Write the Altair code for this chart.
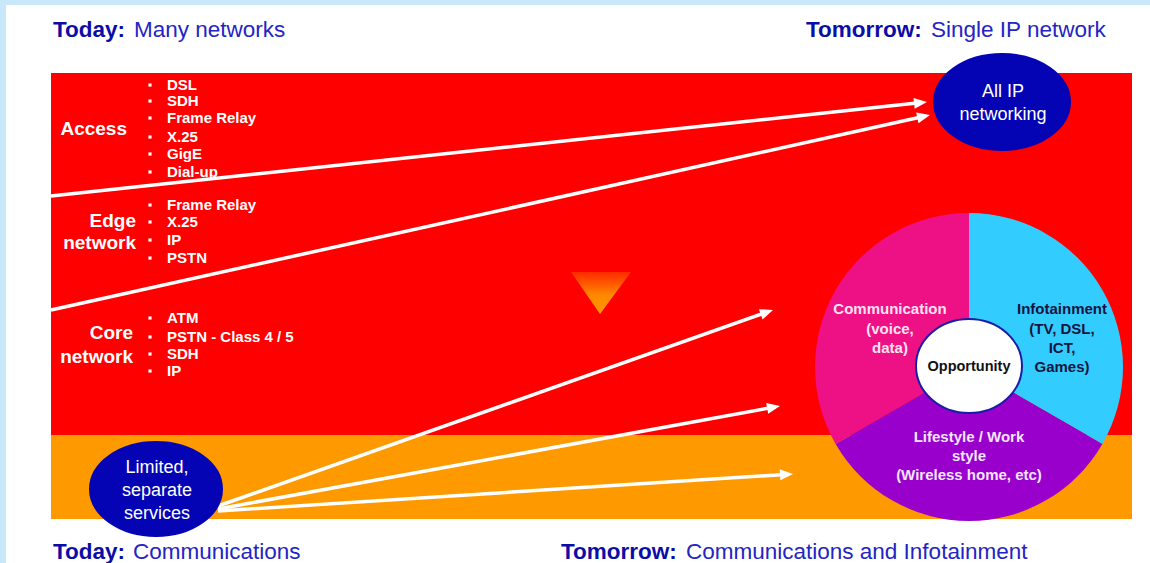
import altair as alt
import pandas as pd

W, H = 1150, 563
FONT = "Liberation Sans"

# ---------------- content ----------------
title_bold = ["Today:", "Tomorrow:", "Today:", "Tomorrow:"]
title_rest = ["Many networks", "Single IP network", "Communications",
              "Communications and Infotainment"]
title_bold_x = [53, 806, 53, 561]
title_rest_x = [134, 931, 133, 686]
title_y = [30, 30, 552, 552]

band_names = ["networks", "services"]
band_colors = ["#ff0000", "#ff9900"]
band_x = [51, 51]
band_x2 = [1132, 1132]
band_y = [73, 435]
band_y2 = [435, 519]

layer_names = ["Access", "Edge", "network", "Core", "network"]
layer_name_x = [127, 136, 136, 133, 133]
layer_name_y = [129, 221, 243, 333, 357]

bullet_items = ["DSL", "SDH", "Frame Relay", "X.25", "GigE", "Dial-up",
                "Frame Relay", "X.25", "IP", "PSTN",
                "ATM", "PSTN - Class 4 / 5", "SDH", "IP"]
bullet_y = [85, 101, 118, 137, 154, 172,
            205, 222, 240, 258,
            318, 337, 354, 371]

arrow_x0 = [51, 51, 218, 218, 218]
arrow_y0 = [196, 310, 506, 509, 511]
arrow_x1 = [927, 930, 773, 780, 793]
arrow_y1 = [102, 115, 310, 406, 474]

pie_labels = ["Infotainment", "Lifestyle / Work style", "Communication"]
pie_shares = [1, 1, 1]
pie_colors = ["#33ccff", "#9900cc", "#ee1085"]

ell_names = ["All IP networking", "Limited, separate services", "Opportunity"]
ell_cx = [1002, 156, 969]
ell_cy = [102, 489, 366]
ell_rx = [68, 66, 53]
ell_ry = [48, 47, 47]
ell_fill = ["#0404b4", "#0404b4", "#ffffff"]
ell_stroke = ["#0404b4", "#0404b4", "#1a1aa8"]

ell_text = ["All IP", "networking", "Limited,", "separate", "services"]
ell_text_x = [1003, 1003, 157, 157, 157]
ell_text_y = [92, 115, 468, 491, 514]

comm_text = ["Communication", "(voice,", "data)"]
comm_y = [309, 329, 348]
info_text = ["Infotainment", "(TV, DSL,", "ICT,", "Games)"]
info_y = [309, 329, 348, 367]
life_text = ["Lifestyle / Work", "style", "(Wireless home, etc)"]
life_y = [437, 456, 475]

# ---------------- helpers ----------------
XS = alt.Scale(domain=[0, W], nice=False, zero=False)
YS = alt.Scale(domain=[0, H], nice=False, zero=False, reverse=True)


def X(f):
    return alt.X(f, type="quantitative", scale=XS, axis=None)


def Y(f):
    return alt.Y(f, type="quantitative", scale=YS, axis=None)


def texts(labels, xs, ys, **kw):
    df = pd.DataFrame({"t": labels, "x": xs, "y": ys})
    return alt.Chart(df).mark_text(font=FONT, baseline="middle", **kw).encode(
        x=X("x"), y=Y("y"), text="t:N")


# ---------------- layers ----------------
panel = alt.Chart(pd.DataFrame({"x": [6], "x2": [W], "y": [5], "y2": [H]})).mark_rect(
    color="#ffffff").encode(x=X("x"), x2="x2:Q", y=Y("y"), y2="y2:Q")

bands = alt.Chart(pd.DataFrame({"n": band_names, "c": band_colors, "x": band_x,
                                "x2": band_x2, "y": band_y, "y2": band_y2})).mark_rect().encode(
    x=X("x"), x2="x2:Q", y=Y("y"), y2="y2:Q", color=alt.Color("c:N", scale=None))

grad = alt.Gradient(gradient="linear",
                    stops=[alt.GradientStop(color="#ff2a00", offset=0),
                           alt.GradientStop(color="#ff8800", offset=0.55),
                           alt.GradientStop(color="#ff9900", offset=1)],
                    x1=0, x2=0, y1=0, y2=1)
tri = alt.Chart(pd.DataFrame({"x": [600], "y": [272]})).mark_point(
    shape="M-29,0 L31,0 L0,42 Z", filled=True, fill=grad, opacity=1, size=4,
    strokeWidth=0).encode(x=X("x"), y=Y("y"))

arr_df = pd.DataFrame({"x0": arrow_x0, "y0": arrow_y0, "x1": arrow_x1, "y1": arrow_y1})
arr_base = alt.Chart(arr_df).transform_calculate(
    ang="atan2(datum.y1 - datum.y0, datum.x1 - datum.x0)"
).transform_calculate(
    deg="(datum.ang * 180 / PI + 360) % 360",
    ex="datum.x1 - 8 * cos(datum.ang)",
    ey="datum.y1 - 8 * sin(datum.ang)",
)
arr_lines = arr_base.mark_rule(color="#ffffff", strokeWidth=3.5).encode(
    x=X("x0"), y=Y("y0"), x2="ex:Q", y2="ey:Q")
arr_heads = arr_base.mark_point(
    shape="M0,0 L-13,-5.5 L-13,5.5 Z", filled=True, color="#ffffff", opacity=1,
    size=4, strokeWidth=0).encode(
    x=X("x1"), y=Y("y1"), angle=alt.Angle("deg:Q", scale=None))

bul_df = pd.DataFrame({"x": [150] * len(bullet_y), "y": bullet_y})
bullets = alt.Chart(bul_df).mark_square(size=10, color="#ffffff", opacity=1).encode(
    x=X("x"), y=Y("y"))

pie = alt.Chart(pd.DataFrame({"lab": pie_labels, "share": pie_shares, "c": pie_colors,
                              "idx": [0, 1, 2]})).mark_arc(radius=154, strokeWidth=0).encode(
    theta=alt.Theta("share:Q", stack=True),
    order=alt.Order("idx:Q"),
    color=alt.Color("c:N", scale=None),
    x=alt.value(969), y=alt.value(367))

ell_paths = [f"M{-rx},0 A{rx},{ry} 0 1,1 {rx},0 A{rx},{ry} 0 1,1 {-rx},0 Z"
             for rx, ry in zip(ell_rx, ell_ry)]
ells = alt.Chart(pd.DataFrame({"n": ell_names, "x": ell_cx, "y": ell_cy, "p": ell_paths,
                               "f": ell_fill, "s": ell_stroke})).mark_point(
    filled=True, opacity=1, size=4, strokeWidth=2).encode(
    x=X("x"), y=Y("y"), shape=alt.Shape("p:N", scale=None),
    fill=alt.Fill("f:N", scale=None), stroke=alt.Stroke("s:N", scale=None))

layers = [
    panel, bands, tri, arr_lines, arr_heads, pie, ells, bullets,
    texts(title_bold, title_bold_x, title_y, align="left", fontSize=22.5,
          fontWeight="bold", color="#0c0ca6"),
    texts(title_rest, title_rest_x, title_y, align="left", fontSize=22.5,
          color="#2424c4"),
    texts(layer_names, layer_name_x, layer_name_y, align="right", fontSize=19,
          fontWeight="bold", color="#ffffff"),
    texts(bullet_items, [167] * len(bullet_items), bullet_y, align="left",
          fontSize=15, fontWeight="bold", color="#ffffff"),
    texts(ell_text, ell_text_x, ell_text_y, align="center", fontSize=18,
          color="#ffffff"),
    texts(comm_text, [890] * len(comm_text), comm_y, align="center", fontSize=15,
          fontWeight="bold", color="#ffe2f0"),
    texts(info_text, [1062] * len(info_text), info_y, align="center", fontSize=15,
          fontWeight="bold", color="#141440"),
    texts(life_text, [969] * len(life_text), life_y, align="center", fontSize=15,
          fontWeight="bold", color="#f4e6ff"),
    texts(["Opportunity"], [969], [367], align="center", fontSize=14.5,
          fontWeight="bold", color="#111111"),
]

chart = alt.layer(*layers).properties(
    width=W, height=H, padding=0, autosize="none", background="#c9e7fb"
).configure_view(stroke=None)

chart.save("out.html", embed_options={"renderer": "svg", "actions": False})
